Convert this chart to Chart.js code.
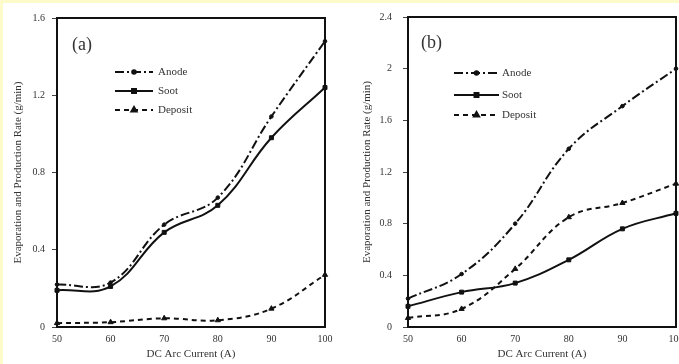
<!DOCTYPE html>
<html><head><meta charset="utf-8">
<script src="https://cdn.jsdelivr.net/npm/chart.js@4/dist/chart.umd.min.js"></script>
<style>
html,body{margin:0;padding:0;background:#fdfbc9;}
#wrap{position:relative;width:679px;height:364px;overflow:hidden;background:#fdfbc9;}
canvas{position:absolute;top:3px;}
#ca{left:3px;}
#cb{left:339px;}
</style></head>
<body>
<div id="wrap">
<canvas id="ca" width="336" height="361"></canvas>
<canvas id="cb" width="340" height="361"></canvas>
</div>
<script>
const current = [50, 60, 70, 80, 90, 100];
const seriesNames = ['Anode', 'Soot', 'Deposit'];
const anodeA = [0.22, 0.23, 0.53, 0.67, 1.09, 1.48];
const sootA = [0.19, 0.21, 0.49, 0.63, 0.98, 1.24];
const depositA = [0.02, 0.025, 0.045, 0.035, 0.095, 0.27];
const anodeB = [0.22, 0.41, 0.80, 1.38, 1.71, 2.0];
const sootB = [0.16, 0.27, 0.34, 0.52, 0.76, 0.88];
const depositB = [0.07, 0.14, 0.45, 0.85, 0.96, 1.11];
const yTicksA = ['0', '0.4', '0.8', '1.2', '1.6'];
const yTicksB = ['0', '0.4', '0.8', '1.2', '1.6', '2', '2.4'];
const xTitle = 'DC Arc Current (A)';
const yTitle = 'Evaporation and Production Rate (g/min)';

const FONT = "'Liberation Serif', 'DejaVu Serif', serif";
const INK = '#111';
const TXT = '#333';

const styles = [
  {borderDash: [9, 3, 2, 3], pointStyle: 'circle', pointRadius: 1.8},
  {borderDash: [], pointStyle: 'rect', pointRadius: 2.8},
  {borderDash: [5, 4], pointStyle: 'triangle', pointRadius: 3}
];

function pts(arr) { return current.map((x, i) => ({x: x, y: arr[i]})); }

const framePlugin = {
  id: 'frame',
  beforeDraw(chart) {
    const c = chart.ctx;
    c.save(); c.fillStyle = '#fff'; c.fillRect(0, 0, chart.width, chart.height); c.restore();
  },
  afterDraw(chart, args, opts) {
    const c = chart.ctx, a = chart.chartArea;
    c.save();
    c.strokeStyle = INK; c.lineWidth = 2;
    c.strokeRect(a.left, a.top, a.right - a.left, a.bottom - a.top);
    c.fillStyle = TXT; c.font = '18px ' + FONT; c.textBaseline = 'middle'; c.textAlign = 'left';
    c.fillText(opts.label, opts.lx, opts.ly);
    c.font = '11px ' + FONT;
    chart.data.datasets.forEach((ds, i) => {
      const y = opts.ys[i];
      c.save();
      c.strokeStyle = INK; c.lineWidth = 2;
      c.setLineDash(ds.borderDash || []);
      c.beginPath(); c.moveTo(opts.x0, y); c.lineTo(opts.x1, y); c.stroke();
      c.restore();
      c.fillStyle = INK; c.strokeStyle = INK;
      Chart.helpers.drawPoint(c, {pointStyle: ds.pointStyle, radius: ds.pointRadius, borderWidth: 1}, (opts.x0 + opts.x1) / 2, y);
      c.fillStyle = TXT;
      c.fillText(ds.label, opts.xt, y);
    });
    c.restore();
  }
};

function makeChart(id, data, yMax, yTicks, geo) {
  const datasets = data.map((arr, i) => ({
    label: seriesNames[i],
    data: pts(arr),
    borderColor: INK,
    backgroundColor: INK,
    borderWidth: 2,
    borderDash: styles[i].borderDash,
    pointStyle: styles[i].pointStyle,
    pointRadius: styles[i].pointRadius,
    pointBorderWidth: 1,
    tension: 0.4,
    fill: false,
    clip: false
  }));
  return new Chart(document.getElementById(id), {
    type: 'line',
    data: {datasets},
    plugins: [framePlugin],
    options: {
      responsive: false,
      animation: false,
      layout: {autoPadding: false, padding: {top: geo.top, right: geo.right, left: 0, bottom: 0}},
      plugins: {
        legend: {display: false},
        tooltip: {enabled: false},
        frame: geo.frame
      },
      scales: {
        x: {
          type: 'linear', min: 50, max: 100,
          ticks: {stepSize: 10, color: TXT, font: {family: FONT, size: 10}, padding: 2, maxRotation: 0},
          grid: {drawOnChartArea: false, tickLength: 4, color: 'rgba(0,0,0,0)'},
          border: {display: false},
          title: {display: true, text: xTitle, color: TXT, font: {family: FONT, size: 11}, padding: {top: 0, bottom: 3}},
          afterFit(s) { s.height = geo.xh; s.paddingLeft = 0; s.paddingRight = 0; }
        },
        y: {
          type: 'linear', min: 0, max: yMax,
          ticks: {stepSize: 0.4, color: TXT, font: {family: FONT, size: 10}, padding: geo.tpad,
                  callback: (v, i) => yTicks[i]},
          grid: {drawOnChartArea: false, tickLength: 5, color: '#444'},
          border: {display: false},
          title: {display: true, text: yTitle, color: TXT, font: {family: FONT, size: 11}, padding: {top: geo.ytp, bottom: 0}},
          afterFit(s) { s.width = geo.yw; s.paddingTop = 0; s.paddingBottom = 0; }
        }
      }
    }
  });
}

makeChart('ca', [anodeA, sootA, depositA], 1.6, yTicksA, {
  top: 15, right: 14, xh: 37, yw: 54, tpad: 7, ytp: 9,
  frame: {label: '(a)', lx: 69, ly: 42, x0: 112, x1: 150, xt: 155, ys: [69, 88, 107]}
});
makeChart('cb', [anodeB, sootB, depositB], 2.4, yTicksB, {
  top: 14, right: 3, xh: 37, yw: 69, tpad: 11, ytp: 22,
  frame: {label: '(b)', lx: 82, ly: 40, x0: 115, x1: 160, xt: 163, ys: [70, 92, 112]}
});
</script>
</body></html>
